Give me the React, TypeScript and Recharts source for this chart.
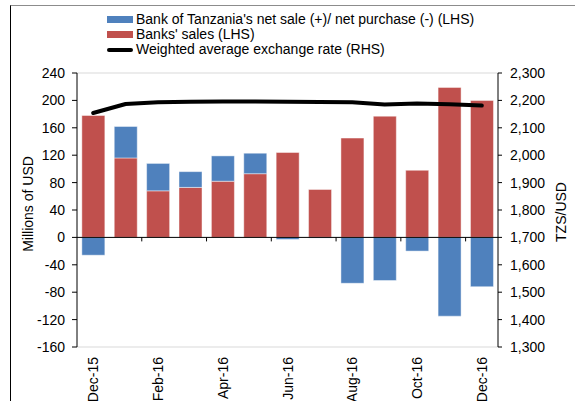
import React from "react";
import {
  ComposedChart,
  Bar,
  Line,
  XAxis,
  YAxis,
  CartesianGrid,
  Legend,
  ReferenceLine,
} from "recharts";

const months = [
  "Dec-15", "Jan-16", "Feb-16", "Mar-16", "Apr-16", "May-16", "Jun-16",
  "Jul-16", "Aug-16", "Sep-16", "Oct-16", "Nov-16", "Dec-16",
];
const banksSales = [178, 116, 68, 73, 82, 93, 124, 70, 145, 177, 98, 219, 200];
const botNet = [-26, 46, 40, 23, 37, 30, -3, -1, -67, -63, -20, -115, -72];
const rate = [2154, 2187, 2193, 2195, 2196, 2196, 2195, 2194, 2193, 2185, 2189, 2186, 2181];

const monthTicks = ["Dec-15", "Feb-16", "Apr-16", "Jun-16", "Aug-16", "Oct-16", "Dec-16"];
const leftTicks = [-160, -120, -80, -40, 0, 40, 80, 120, 160, 200, 240];
const rightTicks = [1300, 1400, 1500, 1600, 1700, 1800, 1900, 2000, 2100, 2200, 2300];

const data = months.map((m, i) => ({
  month: m,
  banks: banksSales[i],
  bot: botNet[i],
  rate: rate[i],
}));

const FONT = "'Liberation Sans', Arial, sans-serif";
const RED = "#C0504D";
const BLUE = "#4F81BD";

const MonthTick = (props: any) => {
  const { x, y, payload } = props;
  if (!monthTicks.includes(payload.value)) return null;
  return (
    <text
      x={x}
      y={y}
      transform={`rotate(-90, ${x}, ${y})`}
      textAnchor="end"
      dominantBaseline="central"
      fontSize={14}
      fontFamily={FONT}
      fill="#000"
    >
      {payload.value}
    </text>
  );
};

// zero line, with the category tick marks hanging off it every two months
const ZeroAxis = (props: any) => {
  const { x1, y1, x2, y2 } = props;
  const step = ((x2 - x1) / months.length) * 2;
  const marks = [];
  for (let k = 1; k < 7; k++) {
    const x = x1 + k * step;
    marks.push(<line key={k} x1={x} y1={y1} x2={x} y2={y1 + 4} stroke="#000" strokeWidth={1} />);
  }
  return (
    <g>
      <line x1={x1} y1={y1} x2={x2} y2={y2} stroke="#000" strokeWidth={1} />
      {marks}
    </g>
  );
};

const LegendBox = () => {
  const row = { display: "flex", alignItems: "center", height: 15, whiteSpace: "nowrap" as const };
  return (
    <div style={{ fontFamily: FONT, fontSize: 14, color: "#000", lineHeight: "15px" }}>
      <div style={row}>
        <span style={{ width: 26, height: 7, background: BLUE, marginRight: 3 }} />
        Bank of Tanzania's net sale (+)/ net purchase (-) (LHS)
      </div>
      <div style={row}>
        <span style={{ width: 26, height: 7, background: RED, marginRight: 3 }} />
        Banks' sales (LHS)
      </div>
      <div style={row}>
        <span style={{ width: 26, height: 4, background: "#000", borderRadius: 2, marginRight: 3 }} />
        Weighted average exchange rate (RHS)
      </div>
    </div>
  );
};

export default function App() {
  return (
    <div style={{ position: "absolute", left: 0, top: 0, width: 575, height: 401, background: "#fff", overflow: "hidden" }}>
      <div
        style={{
          position: "absolute",
          left: 10,
          top: 5,
          width: 700,
          height: 500,
          borderTop: "1px solid #8c8c8c",
          borderLeft: "1px solid #000",
        }}
      />
      <ComposedChart
        width={575}
        height={401}
        data={data}
        stackOffset="sign"
        barCategoryGap="15%"
        margin={{ top: 73, right: 0, left: 0, bottom: 0 }}
      >
        <CartesianGrid vertical={false} stroke="#d9d9d9" />
        <XAxis
          dataKey="month"
          interval={0}
          axisLine={false}
          tickLine={false}
          tickSize={0}
          tickMargin={10}
          height={54}
          tick={<MonthTick />}
        />
        <YAxis
          yAxisId="left"
          width={77}
          domain={[-160, 240]}
          ticks={leftTicks}
          interval={0}
          axisLine={{ stroke: "#000" }}
          tickLine={{ stroke: "#000" }}
          tickSize={5}
          tickMargin={7}
          tick={{ fontSize: 14, fontFamily: FONT, fill: "#000" }}
          label={{
            content: (p: any) => {
              const vb = p.viewBox;
              const cx = vb.x + 28;
              const cy = vb.y + vb.height / 2 - 6;
              return (
                <text
                  x={cx}
                  y={cy}
                  transform={`rotate(-90, ${cx}, ${cy})`}
                  textAnchor="middle"
                  dominantBaseline="central"
                  fontSize={14}
                  fontFamily={FONT}
                  fill="#000"
                >
                  Millions of USD
                </text>
              );
            },
          }}
        />
        <YAxis
          yAxisId="right"
          orientation="right"
          width={77}
          domain={[1300, 2300]}
          ticks={rightTicks}
          interval={0}
          axisLine={{ stroke: "#000" }}
          tickLine={{ stroke: "#000" }}
          tickSize={4}
          tickMargin={8}
          tickFormatter={(v: number) => v.toLocaleString("en-US")}
          tick={{ fontSize: 14, fontFamily: FONT, fill: "#000" }}
          label={{
            content: (p: any) => {
              const vb = p.viewBox;
              const cx = vb.x + 63;
              const cy = vb.y + vb.height / 2 + 2;
              return (
                <text
                  x={cx}
                  y={cy}
                  transform={`rotate(-90, ${cx}, ${cy})`}
                  textAnchor="middle"
                  dominantBaseline="central"
                  fontSize={14}
                  fontFamily={FONT}
                  fill="#000"
                >
                  TZS/USD
                </text>
              );
            },
          }}
        />
        <Legend
          verticalAlign="middle"
          align="center"
          layout="horizontal"
          wrapperStyle={{ top: 12, left: 107, width: "auto", height: "auto" }}
          content={() => <LegendBox />}
        />
        <Bar
          yAxisId="left"
          dataKey="banks"
          stackId="a"
          fill={RED}
          stroke="rgba(255,255,255,0.45)"
          isAnimationActive={false}
        />
        <Bar
          yAxisId="left"
          dataKey="bot"
          stackId="a"
          fill={BLUE}
          stroke="rgba(255,255,255,0.45)"
          isAnimationActive={false}
        />
        <ReferenceLine yAxisId="left" y={0} shape={<ZeroAxis />} />
        <Line
          yAxisId="right"
          dataKey="rate"
          type="linear"
          stroke="#000"
          strokeWidth={4}
          dot={false}
          strokeLinejoin="round"
          strokeLinecap="round"
          isAnimationActive={false}
        />
      </ComposedChart>
    </div>
  );
}
